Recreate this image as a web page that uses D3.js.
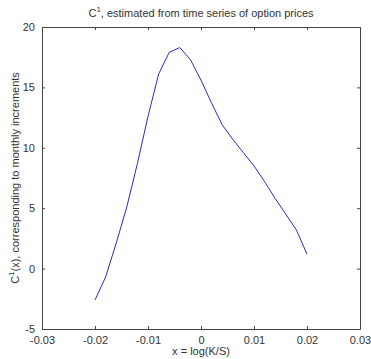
<!DOCTYPE html>
<html>
<head>
<meta charset="utf-8">
<script src="https://cdn.jsdelivr.net/npm/d3@7"></script>
<style>
body { margin: 0; background: #fff; }
svg text { font-family: "Liberation Sans", Arial, sans-serif; }
</style>
</head>
<body>
<svg id="chart"></svg>
<script>
var width = 371,
	height = 359;
var margin = ({top: 27, right: 11, bottom: 30, left: 42});

// data
var logKS = [-0.020, -0.018, -0.016, -0.014, -0.012, -0.010, -0.008, -0.006, -0.004, -0.002,
	0.000, 0.002, 0.004, 0.006, 0.008, 0.010, 0.012, 0.014, 0.016, 0.018, 0.020];
var c1 = [-2.6, -0.7, 2.1, 5.1, 8.7, 12.6, 16.1, 17.9, 18.3, 17.3,
	15.6, 13.7, 11.9, 10.7, 9.6, 8.5, 7.2, 5.8, 4.5, 3.2, 1.2];
var xTicks = [-0.03, -0.02, -0.01, 0, 0.01, 0.02, 0.03];
var yTicks = [-5, 0, 5, 10, 15, 20];

var svg = d3.select('#chart')
	.attr('width', width)
	.attr('height', height);

var x = d3.scaleLinear()
	.domain([-0.03, 0.03])
	.range([margin.left, width - margin.right]);

var y = d3.scaleLinear()
	.domain([-5, 20])
	.range([height - margin.bottom, margin.top]);

var axisColor = '#444';
var textColor = '#333';

// matlab prints a plain hyphen for negatives
var fmtX = d => d == 0 ? '0' : (d < 0 ? '-' : '') + Math.abs(d).toFixed(2);
var fmtY = d => (d < 0 ? '-' : '') + Math.abs(d);

// inward ticks on all four sides, matlab style
var xAxis = g => g
	.attr('transform', 'translate(0,' + (height - margin.bottom) + ')')
	.call(d3.axisBottom(x).tickValues(xTicks).tickSizeInner(-3).tickSizeOuter(0).tickPadding(7)
		.tickFormat(fmtX))
	.call(g => g.selectAll('.tick text').attr('fill', textColor).attr('font-size', 11));

var xAxisTop = g => g
	.attr('transform', 'translate(0,' + margin.top + ')')
	.call(d3.axisTop(x).tickValues(xTicks).tickSizeInner(-3).tickSizeOuter(0).tickFormat(''));

var yAxis = g => g
	.attr('transform', 'translate(' + margin.left + ',0)')
	.call(d3.axisLeft(y).tickValues(yTicks).tickSizeInner(-3).tickSizeOuter(0).tickPadding(7)
		.tickFormat(fmtY))
	.call(g => g.selectAll('.tick text').attr('fill', textColor).attr('font-size', 11));

var yAxisRight = g => g
	.attr('transform', 'translate(' + (width - margin.right) + ',0)')
	.call(d3.axisRight(y).tickValues(yTicks).tickSizeInner(-3).tickSizeOuter(0).tickFormat(''));

[xAxis, xAxisTop, yAxis, yAxisRight].forEach(function(a){
	svg.append('g')
		.call(a)
		.call(g => g.selectAll('.domain, .tick line').attr('stroke', axisColor));
});

// the curve
var line = d3.line()
	.x((d, i) => x(logKS[i]))
	.y(d => y(d));

svg.append('path')
	.attr('d', line(c1))
	.attr('fill', 'none')
	.attr('stroke', '#2a2acc')
	.attr('stroke-width', 1);

// title
var title = svg.append('text')
	.attr('x', (margin.left + width - margin.right) / 2)
	.attr('y', 17)
	.attr('text-anchor', 'middle')
	.attr('font-size', 11)
	.attr('fill', textColor);
title.append('tspan').text('C');
title.append('tspan').attr('dy', -5).attr('font-size', 8).text('1');
title.append('tspan').attr('dy', 5).text(', estimated from time series of option prices');

// x label
svg.append('text')
	.attr('x', (margin.left + width - margin.right) / 2)
	.attr('y', 355)
	.attr('text-anchor', 'middle')
	.attr('font-size', 11)
	.attr('fill', textColor)
	.text('x = log(K/S)');

// y label
var ylab = svg.append('text')
	.attr('transform', 'translate(19,' + ((margin.top + height - margin.bottom) / 2) + ') rotate(-90)')
	.attr('text-anchor', 'middle')
	.attr('font-size', 11)
	.attr('fill', textColor);
ylab.append('tspan').text('C');
ylab.append('tspan').attr('dy', -5).attr('font-size', 8).text('1');
ylab.append('tspan').attr('dy', 5).text('(x), corresponding to monthly increments');
</script>
</body>
</html>
